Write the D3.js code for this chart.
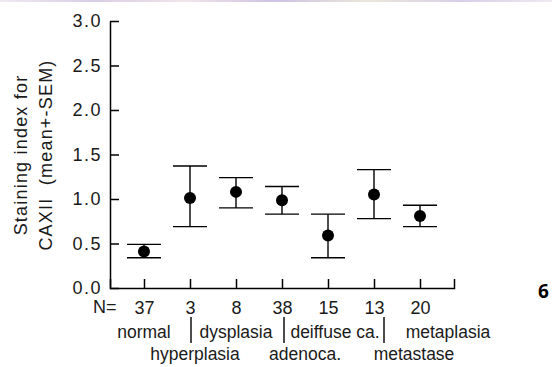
<!DOCTYPE html>
<html>
<head>
<meta charset="utf-8">
<script src="https://cdn.jsdelivr.net/npm/d3@7"></script>
<style>
  body { margin: 0; background: #fff; }
  svg { display: block; font-family: "Liberation Sans", Arial, sans-serif; }
</style>
</head>
<body>
<svg width="552" height="367"></svg>
<script>
// Groups, sample sizes and staining index (mean with SEM bar ends)
const groups = ["normal", "hyperplasia", "dysplasia", "adenoca.", "deiffuse ca.", "metastase", "metaplasia"];
const counts = [37, 3, 8, 38, 15, 13, 20];
const means = [0.41, 1.01, 1.08, 0.985, 0.59, 1.05, 0.81];
const upper = [0.49, 1.37, 1.24, 1.14, 0.83, 1.33, 0.93];
const lower = [0.34, 0.69, 0.90, 0.83, 0.34, 0.78, 0.69];
const yTicks = [0, 0.5, 1.0, 1.5, 2.0, 2.5, 3.0];

// Group names under the axis: first row and second row
const row1 = ["normal", "dysplasia", "deiffuse ca.", "metaplasia"];
const row2 = ["hyperplasia", "adenoca.", "metastase"];
const dividers = ["hyperplasia", "adenoca.", "metastase"];

// Layout nudges for the name rows (pixels from the group's point)
const row1Shift = {"normal": 0, "dysplasia": 0, "deiffuse ca.": 7, "metaplasia": 28};
const row2Shift = {"hyperplasia": 5, "adenoca.": 23, "metastase": 40};
const dividerShift = {"hyperplasia": 1, "adenoca.": 2, "metastase": 10};

const svg = d3.select("svg");
const ink = "#1a1a1a";

// faint strip along the top edge, as in the scan
const grad = svg.append("defs").append("linearGradient").attr("id", "strip");
["#efe9f2", "#d9cde6", "#f1e4ea", "#cfc2e3", "#ece6da", "#d7cfe8", "#efe9f2"].forEach((c, i, a) => {
    grad.append("stop").attr("offset", i / (a.length - 1)).attr("stop-color", c);
});
svg.append("rect").attr("x", 0).attr("y", 0).attr("width", 552).attr("height", 2)
    .attr("fill", "url(#strip)");

const x = d3.scalePoint()
    .domain(groups)
    .range([110, 454])
    .padding(0.739);

const y = d3.scaleLinear()
    .domain([0, 3])
    .range([288, 21]);

// Y axis, ticks pointing inward
const yAxis = svg.append("g")
    .attr("transform", "translate(110,0)")
    .call(d3.axisLeft(y).tickValues(yTicks).tickFormat(d3.format(".1f"))
        .tickSizeInner(-9).tickSizeOuter(0).tickPadding(8));
yAxis.selectAll("text")
    .attr("font-size", 18).attr("fill", ink)
    .attr("font-family", "Liberation Sans, Arial, sans-serif")
    .style("letter-spacing", "1.5px");

// X axis, N values as tick labels
const xAxis = svg.append("g")
    .attr("transform", "translate(0,288)")
    .call(d3.axisBottom(x).tickFormat((d, i) => counts[i])
        .tickSizeInner(-9).tickSizeOuter(-9).tickPadding(13));
xAxis.selectAll("text")
    .attr("font-size", 18).attr("fill", ink)
    .attr("font-family", "Liberation Sans, Arial, sans-serif");

svg.selectAll(".domain, .tick line").attr("stroke", "#000").attr("stroke-width", 1.5);

svg.append("text")
    .attr("x", 93).attr("y", 313)
    .attr("font-size", 18).attr("fill", ink)
    .text("N=");

// Y label
const yLabel = svg.append("text")
    .attr("transform", "translate(0,155) rotate(-90)")
    .attr("text-anchor", "middle")
    .attr("font-size", 18).attr("fill", ink)
    .style("letter-spacing", "1.2px");
yLabel.append("tspan").attr("x", 0).attr("y", 27).text("Staining index for");
yLabel.append("tspan").attr("x", 0).attr("y", 52).text("CAXII\u00a0\u00a0(mean+-SEM)");

// Error bars
const capHalf = 17;
groups.forEach((g, i) => {
    const cx = x(g);
    svg.append("line")
        .attr("x1", cx).attr("x2", cx)
        .attr("y1", y(upper[i])).attr("y2", y(lower[i]))
        .attr("stroke", "#000").attr("stroke-width", 1.4);
    [upper[i], lower[i]].forEach(v => {
        svg.append("line")
            .attr("x1", cx - capHalf).attr("x2", cx + capHalf)
            .attr("y1", y(v)).attr("y2", y(v))
            .attr("stroke", "#000").attr("stroke-width", 1.4);
    });
    svg.append("circle")
        .attr("cx", cx).attr("cy", y(means[i]))
        .attr("r", 6).attr("fill", "#000");
});

// Group names
row1.forEach(g => {
    svg.append("text")
        .attr("x", x(g) + row1Shift[g]).attr("y", 338)
        .attr("text-anchor", "middle")
        .attr("font-size", 17.5).attr("fill", ink)
        .text(g);
});
row2.forEach(g => {
    svg.append("text")
        .attr("x", x(g) + row2Shift[g]).attr("y", 360)
        .attr("text-anchor", "middle")
        .attr("font-size", 17.5).attr("fill", ink)
        .text(g);
});
dividers.forEach(g => {
    svg.append("line")
        .attr("x1", x(g) + dividerShift[g]).attr("x2", x(g) + dividerShift[g])
        .attr("y1", 317).attr("y2", 343)
        .attr("stroke", "#000").attr("stroke-width", 1.4);
});

// panel number
svg.append("text")
    .attr("x", 538).attr("y", 298)
    .attr("font-family", "Noto Sans, sans-serif")
    .attr("font-weight", "bold")
    .attr("font-size", 19).attr("fill", "#000")
    .text("6");
</script>
</body>
</html>
